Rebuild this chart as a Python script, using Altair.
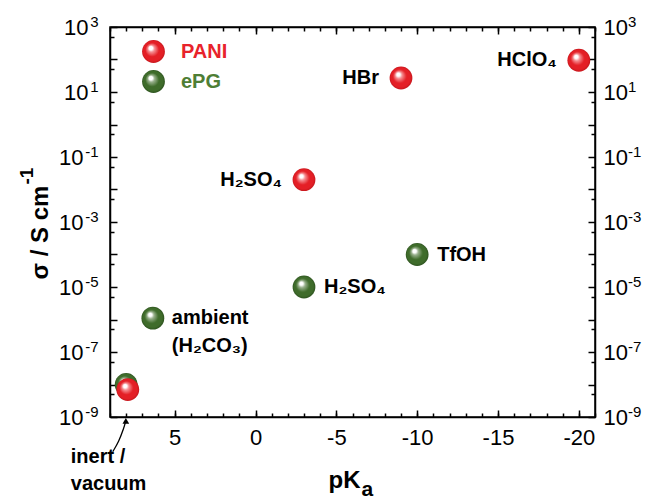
import altair as alt
import pandas as pd

FONT = "Liberation Sans"
RED = "#e41f26"
GREEN = "#3f6c2b"
RED_EDGE = "#c5171d"
GREEN_EDGE = "#2d521f"
RED_TEXT = "#e8232b"
GREEN_TEXT = "#4e7e35"

# ---------------- data ----------------
series = ["PANI", "ePG"]

pani_acid = ["HClO₄", "HBr", "H₂SO₄", "inert"]
pani_pka = [-20, -9, -3, 7.9]
pani_sigma = [95, 27, 0.02, 7e-9]
pani_label = ["HClO₄", "HBr", "H₂SO₄", ""]

epg_acid = ["TfOH", "H₂SO₄", "ambient", "inert"]
epg_pka = [-10, -3, 6.35, 8.0]
epg_sigma = [1e-4, 1e-5, 1.1e-6, 1e-8]
epg_label = ["TfOH", "H₂SO₄", "", ""]

ambient_lines = ["ambient", "(H₂CO₃)"]
inert_lines = ["inert /", "vacuum"]

# curved arrow pointing at the inert / vacuum points
arrow_pka = [8.83, 8.45, 8.15, 8.02]
arrow_sigma = [10 ** -10.07, 10 ** -9.75, 10 ** -9.35, 10 ** -9.12]

x_major = [5, 0, -5, -10, -15, -20]
x_minor = list(range(-21, 10))
y_major = [float(f"1e{e}") for e in range(-9, 4)]
y_minor = [float(f"5e{e}") for e in range(-9, 3)]
y_label_values = [1e-9, 1e-7, 1e-5, 1e-3, 1e-1, 1e1, 1e3]
y_label_exps = ["-9", "-7", "-5", "-3", "-1", "1", "3"]

x_title, x_title_sub = "pK", "a"
y_title, y_title_sup = "σ / S cm", "-1"

pani = pd.DataFrame({"series": "PANI", "acid": pani_acid, "pka": pani_pka,
                     "sigma": pani_sigma, "label": pani_label})
epg = pd.DataFrame({"series": "ePG", "acid": epg_acid, "pka": epg_pka,
                    "sigma": epg_sigma, "label": epg_label})
allpts = pd.concat([epg, pani], ignore_index=True)
arrow = pd.DataFrame({"pka": arrow_pka, "sigma": arrow_sigma,
                      "order": list(range(len(arrow_pka)))})

# ---------------- scales / axes ----------------
xscale = alt.Scale(domain=[9, -21], nice=False, zero=False)
yscale = alt.Scale(type="log", domain=[1e-9, 1e3], nice=False)

is_lab = " || ".join(f"abs(datum.value - {v!r}) < {v!r} * 1e-6" for v in y_label_values)
base_expr = f"({is_lab}) ? '10' : ''"
exp_expr = ""
for v, t in zip(y_label_values, y_label_exps):
    exp_expr += f"abs(datum.value - {v!r}) < {v!r} * 1e-6 ? '{t}' : "
exp_expr += "''"

common = dict(domainColor="black", domainWidth=1.5, tickColor="black",
              tickWidth=1.5, grid=False, labelFont=FONT, labelFontSize=22,
              labelColor="black", labelOverlap=False, labelFlush=False)
plain = dict(grid=False, domain=False)
ttl = dict(titleFont=FONT, titleFontWeight="bold", titleColor="black")

ax_bottom = alt.Axis(orient="bottom", values=x_major, tickSize=alt.ExprRef("-7"),
                     labelExpr="'' + datum.value", labelPadding=17,
                     title=x_title, titleFontSize=24, titleX=250, titleY=70,
                     titleAlign="right", titleBaseline="alphabetic", titleAngle=0,
                     **ttl, **common)
ax_bottom_minor = alt.Axis(orient="bottom", values=x_minor, tickSize=alt.ExprRef("-4"),
                           tickColor="black", tickWidth=1.5, labels=False,
                           title=x_title_sub, titleFontSize=21, titleX=251, titleY=78,
                           titleAlign="left", titleBaseline="alphabetic", titleAngle=0,
                           **ttl, **plain)
ax_top = alt.Axis(orient="top", values=x_major, tickSize=alt.ExprRef("-7"),
                  labels=False, title=None, **common)
ax_top_minor = alt.Axis(orient="top", values=x_minor, tickSize=alt.ExprRef("-4"),
                        tickColor="black", tickWidth=1.5, labels=False, title=None, **plain)

ax_left = alt.Axis(orient="left", values=y_major, tickSize=alt.ExprRef("-7"),
                   labelExpr=base_expr, labelAlign="right",
                   labelPadding={"condition": {"test": "datum.value < 1", "value": 34},
                                 "value": 29},
                   title=y_title, titleFontSize=24, titleX=-63, titleY=205,
                   titleAngle=270, titleAlign="center", titleBaseline="alphabetic",
                   **ttl, **common)
ax_left_exp = alt.Axis(orient="left", values=y_label_values, ticks=False,
                       labelExpr=exp_expr, labelAlign="right", labelPadding=12,
                       labelFont=FONT, labelFontSize=15, labelColor="black",
                       labelOffset=-6, labelOverlap=False, labelFlush=False,
                       title=y_title_sup, titleFontSize=19, titleX=-78, titleY=157,
                       titleAngle=270, titleAlign="left", titleBaseline="alphabetic",
                       **ttl, **plain)
ax_left_minor = alt.Axis(orient="left", values=y_minor, tickSize=alt.ExprRef("-4"),
                         tickColor="black", tickWidth=1.5, labels=False, title=None, **plain)
ax_right = alt.Axis(orient="right", values=y_major, tickSize=alt.ExprRef("-7"),
                    labelExpr=base_expr, labelAlign="left", labelPadding=15,
                    title=None, **common)
ax_right_exp = alt.Axis(orient="right", values=y_label_values, ticks=False,
                        labelExpr=exp_expr, labelAlign="left", labelPadding=32.5,
                        labelFont=FONT, labelFontSize=15, labelColor="black",
                        labelOffset=-6, labelOverlap=False, labelFlush=False,
                        title=None, **plain)
ax_right_minor = alt.Axis(orient="right", values=y_minor, tickSize=alt.ExprRef("-4"),
                          tickColor="black", tickWidth=1.5, labels=False, title=None, **plain)


def sphere_expr(main, edge, light):
    return alt.ExprRef(
        "{gradient: 'radial', x1: 0.36, y1: 0.32, r1: 0, x2: 0.5, y2: 0.5, r2: 0.5, "
        f"stops: [{{offset: 0, color: '#ffffff'}}, {{offset: 0.16, color: '#ffffff'}}, "
        f"{{offset: 0.3, color: '{light}'}}, "
        f"{{offset: 0.6, color: '{main}'}}, {{offset: 0.86, color: '{main}'}}, "
        f"{{offset: 1, color: '{edge}'}}]}}")


SIZE = 520

base = alt.Chart(allpts).mark_circle(size=SIZE, opacity=1).encode(
    x=alt.X("pka:Q", scale=xscale, axis=ax_bottom),
    y=alt.Y("sigma:Q", scale=yscale, axis=ax_left),
    color=alt.Color("series:N",
                    scale=alt.Scale(domain=series,
                                    range=[sphere_expr(RED, RED_EDGE, "#f58e92"),
                                           sphere_expr(GREEN, GREEN_EDGE, "#98b08c")]),
                    legend=alt.Legend(orient="none", legendX=32, legendY=13,
                                      title=None, symbolType="circle",
                                      symbolSize=SIZE, symbolStrokeWidth=0,
                                      symbolOpacity=1,
                                      labelFont=FONT, labelFontSize=20,
                                      labelFontWeight="bold", labelOffset=16,
                                      rowPadding=7,
                                      labelColor=alt.ExprRef(
                                          f"datum.label == 'PANI' ? '{RED_TEXT}' : '{GREEN_TEXT}'"))),
)

txt = dict(font=FONT, fontSize=20, fontWeight="bold", color="black")

pani_text = alt.Chart(pani).transform_filter("datum.label != ''").mark_text(
    align="right", baseline="middle", dx=-22, **txt).encode(
    x=alt.X("pka:Q", scale=xscale, axis=ax_top),
    y=alt.Y("sigma:Q", scale=yscale, axis=ax_right),
    text="label:N",
)
epg_text = alt.Chart(epg).transform_filter("datum.label != ''").mark_text(
    align="left", baseline="middle", dx=20, **txt).encode(
    x=alt.X("pka:Q", scale=xscale, axis=ax_bottom_minor),
    y=alt.Y("sigma:Q", scale=yscale, axis=ax_left_minor),
    text="label:N",
)
ambient_text = alt.Chart(epg).transform_filter("datum.acid == 'ambient'").mark_text(
    align="left", baseline="top", dx=19, dy=-10, lineHeight=28, **txt).encode(
    x=alt.X("pka:Q", scale=xscale, axis=ax_top_minor),
    y=alt.Y("sigma:Q", scale=yscale, axis=ax_right_minor),
    text=alt.value(ambient_lines),
)
inert_text = alt.Chart(pani).transform_filter("datum.acid == 'inert'").mark_text(
    align="left", baseline="top", dx=-57, dy=57, lineHeight=27, **txt).encode(
    x=alt.X("pka:Q", scale=xscale, axis=None),
    y=alt.Y("sigma:Q", scale=yscale, axis=ax_left_exp),
    text=alt.value(inert_lines),
)
arrow_line = alt.Chart(arrow).mark_line(color="black", strokeWidth=1.3,
                                        interpolate="basis").encode(
    x=alt.X("pka:Q", scale=xscale, axis=None),
    y=alt.Y("sigma:Q", scale=yscale, axis=ax_right_exp),
    order="order:Q",
)
arrow_head = alt.Chart(arrow).transform_filter("datum.order == 3").mark_point(
    shape="triangle-up", size=45, filled=True, color="black", opacity=1).encode(
    x=alt.X("pka:Q", scale=xscale, axis=None),
    y=alt.Y("sigma:Q", scale=yscale, axis=None),
)

chart = alt.layer(
    base, pani_text, epg_text, ambient_text, inert_text, arrow_line, arrow_head,
).resolve_axis(x="independent", y="independent").properties(
    width=485, height=390,
    autosize=alt.AutoSizeParams(type="none"),
    padding={"left": 110, "top": 27, "right": 53, "bottom": 85},
    background="white",
).configure_view(stroke="black", strokeWidth=1.5)

chart.save("out.html", embed_options={"renderer": "svg", "actions": False})
